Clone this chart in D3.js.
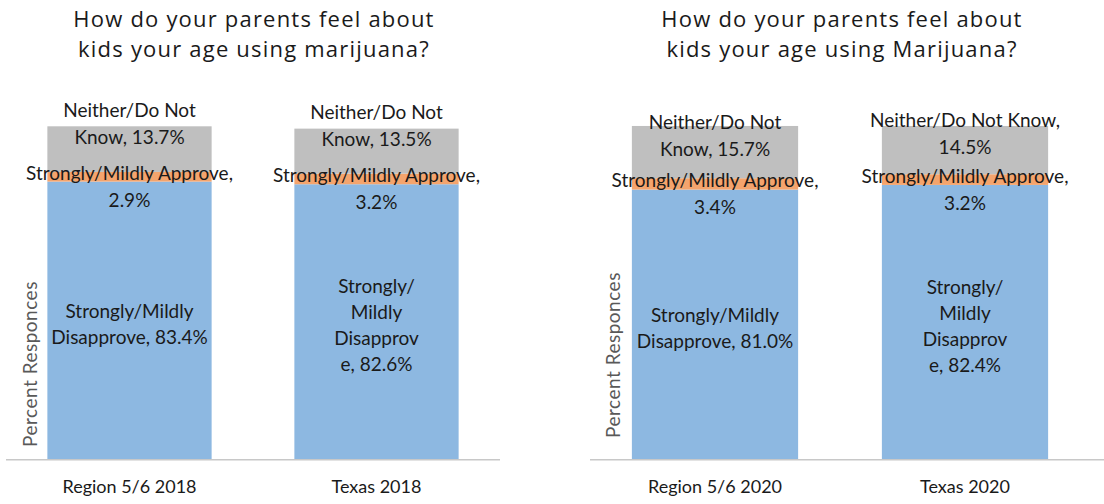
<!DOCTYPE html>
<html>
<head>
<meta charset="utf-8">
<script src="https://cdn.jsdelivr.net/npm/d3@7"></script>
<style>
  html, body { margin: 0; padding: 0; background: #ffffff; }
  svg { display: block; }
</style>
</head>
<body>
<svg id="chart" width="1104" height="504"></svg>
<script>
// ---- data ----
const titles = [
  ["How do your parents feel about", "kids your age using marijuana?"],
  ["How do your parents feel about", "kids your age using Marijuana?"]
];
const yAxisTitle = "Percent Responces";
const categories2018 = ["Region 5/6 2018", "Texas 2018"];
const categories2020 = ["Region 5/6 2020", "Texas 2020"];
const seriesNames = ["Strongly/Mildly Disapprove", "Strongly/Mildly Approve", "Neither/Do Not Know"];
const disapprove2018 = [83.4, 82.6];
const approve2018 = [2.9, 3.2];
const neither2018 = [13.7, 13.5];
const disapprove2020 = [81.0, 82.4];
const approve2020 = [3.4, 3.2];
const neither2020 = [15.7, 14.5];
// label wrapping as it appears in the chart ({v} = value)
const disapproveWrap2018 = [["Strongly/Mildly", "Disapprove, {v}"], ["Strongly/", "Mildly", "Disapprov", "e, {v}"]];
const approveWrap2018 = [["Strongly/Mildly Approve,", "{v}"], ["Strongly/Mildly Approve,", "{v}"]];
const neitherWrap2018 = [["Neither/Do Not", "Know, {v}"], ["Neither/Do Not", "Know, {v}"]];
const disapproveWrap2020 = [["Strongly/Mildly", "Disapprove, {v}"], ["Strongly/", "Mildly", "Disapprov", "e, {v}"]];
const approveWrap2020 = [["Strongly/Mildly Approve,", "{v}"], ["Strongly/Mildly Approve,", "{v}"]];
const neitherWrap2020 = [["Neither/Do Not", "Know, {v}"], ["Neither/Do Not Know,", "{v}"]];

// ---- styling / layout ----
const colors = ["#8db8e1", "#f4a46d", "#bfbfbf"];
const labelFont = "Lato, 'Open Sans', sans-serif";
const titleFont = "'Open Sans', Lato, sans-serif";
const fmt = v => v.toFixed(1) + "%";

const panels = [
  {
    title: titles[0], cats: categories2018,
    series: [disapprove2018, approve2018, neither2018],
    wraps: [disapproveWrap2018, approveWrap2018, neitherWrap2018],
    xRange: [6, 500], lineEnd: 500, titleX: 254, yTitleX: 37, yTitleY: 364, neitherOffset: -32
  },
  {
    title: titles[1], cats: categories2020,
    series: [disapprove2020, approve2020, neither2020],
    wraps: [disapproveWrap2020, approveWrap2020, neitherWrap2020],
    xRange: [590, 1090], lineEnd: 1104, titleX: 842, yTitleX: 620, yTitleY: 355, neitherOffset: -23
  }
];

const svg = d3.select("#chart");
const y = d3.scaleLinear().domain([0, 100]).range([459.3, 126.3]);

panels.forEach(p => {
  const g = svg.append("g");
  const x = d3.scaleBand().domain(p.cats).range(p.xRange).paddingInner(0.335).paddingOuter(0.1675);

  // title
  const t = g.append("text")
    .attr("x", p.titleX).attr("text-anchor", "middle")
    .attr("font-family", titleFont).attr("font-size", 22).attr("letter-spacing", 1.2)
    .attr("fill", "#1a1a1a");
  p.title.forEach((line, i) => {
    t.append("tspan").attr("x", p.titleX).attr("y", 27 + i * 30).text(line);
  });

  // stacked data
  const rows = p.cats.map((c, i) => {
    let base = 0;
    return p.series.map((s, k) => {
      const seg = { cat: c, i, k, v: s[i], y0: base, y1: base + s[i] };
      base += s[i];
      return seg;
    });
  }).flat();

  g.selectAll("rect.seg").data(rows).join("rect")
    .attr("class", "seg")
    .attr("x", d => x(d.cat))
    .attr("width", x.bandwidth())
    .attr("y", d => y(d.y1))
    .attr("height", d => y(d.y0) - y(d.y1))
    .attr("fill", d => colors[d.k]);

  // axis baseline + category labels
  const axis = d3.axisBottom(x).tickSize(0).tickPadding(0);
  const ag = g.append("g").attr("transform", `translate(0,${y(0)})`).call(axis);
  ag.select(".domain").remove();
  ag.selectAll("text")
    .attr("font-family", labelFont).attr("font-size", 18).attr("fill", "#1a1a1a")
    .attr("dy", null).attr("y", 34);
  g.append("line")
    .attr("x1", p.xRange[0]).attr("x2", p.lineEnd)
    .attr("y1", y(0) + 0.5).attr("y2", y(0) + 0.5)
    .attr("stroke", "#c8c8c8").attr("stroke-width", 1.5);

  // y axis title
  g.append("text")
    .attr("transform", `translate(${p.yTitleX},${p.yTitleY}) rotate(-90)`)
    .attr("text-anchor", "middle")
    .attr("font-family", labelFont).attr("font-size", 19).attr("letter-spacing", 0.5)
    .attr("fill", "#595959")
    .text(yAxisTitle);

  // data labels
  rows.forEach(d => {
    const lines = p.wraps[d.k][d.i].map(s => s.replace("{v}", fmt(d.v)));
    const cx = x(d.cat) + x.bandwidth() / 2;
    const center = (y(d.y0) + y(d.y1)) / 2;
    let first, lh;
    if (d.k === 0) { lh = 26; first = center - (lines.length - 1) * lh / 2 + 10.5; }
    else if (d.k === 1) { lh = 26.5; first = center + 3.5; }
    else { lh = 27; first = center + p.neitherOffset; }
    const tx = g.append("text")
      .attr("text-anchor", "middle")
      .attr("font-family", labelFont).attr("font-size", 19).attr("fill", "#1a1a1a");
    lines.forEach((l, j) => {
      tx.append("tspan").attr("x", cx).attr("y", first + j * lh).text(l);
    });
  });
});
</script>
</body>
</html>
